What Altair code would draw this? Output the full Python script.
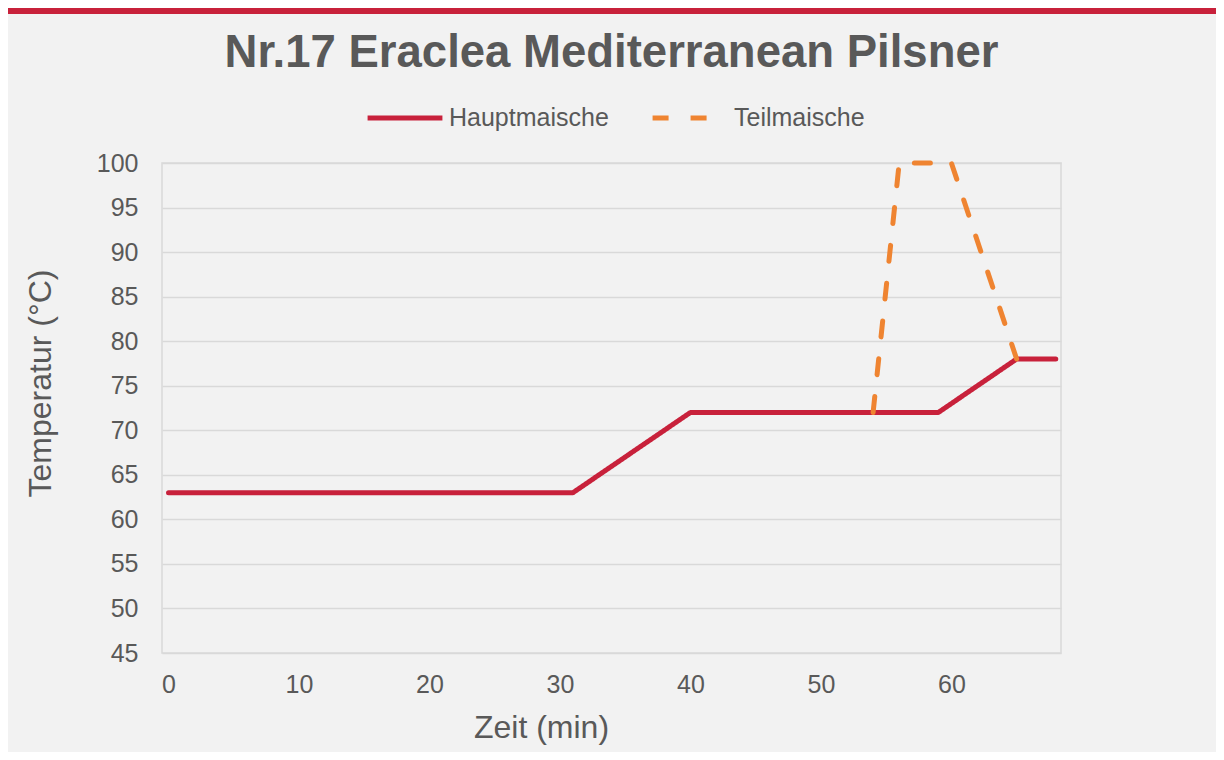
import altair as alt
import pandas as pd

# --- data ---
series = ["Hauptmaische", "Teilmaische"]
haupt_zeit = [0, 31, 40, 59, 65, 68]
haupt_temp = [63, 63, 72, 72, 78, 78]
teil_zeit = [54, 56, 60, 65]
teil_temp = [72, 100, 100, 78]
x_ticks = [0, 10, 20, 30, 40, 50, 60]
y_ticks = [45, 50, 55, 60, 65, 70, 75, 80, 85, 90, 95, 100]

colors = ["#C8213B", "#EF8431"]
dashes = [[1, 0], [16, 22]]

rows = []
for i, (z, t) in enumerate(zip(haupt_zeit, haupt_temp)):
    rows.append({"zeit": z, "temp": t, "serie": series[0], "idx": i})
for i, (z, t) in enumerate(zip(teil_zeit, teil_temp)):
    rows.append({"zeit": z, "temp": t, "serie": series[1], "idx": i})
df = pd.DataFrame(rows)

FONT = "Liberation Sans"
TXT = "#595959"

legend_kw = dict(
    orient="none", legendX=203, legendY=-85, direction="horizontal",
    title=None, symbolType="stroke", symbolSize=5600, symbolStrokeWidth=5,
    labelFontSize=25, labelColor=TXT, labelFont=FONT, columnPadding=33,
    labelOffset=4,
)

lines = alt.Chart(df).mark_line(strokeWidth=5, strokeCap="round", strokeJoin="round").encode(
    x=alt.X("zeit:Q",
            scale=alt.Scale(domain=[-0.5, 68.4], nice=False, zero=False),
            axis=alt.Axis(values=x_ticks, title="Zeit (min)", labelPadding=19, grid=False,
                          titleX=379, titleY=74, titleBaseline="middle", titleAlign="center")),
    y=alt.Y("temp:Q",
            scale=alt.Scale(domain=[45, 100], nice=False, zero=False),
            axis=alt.Axis(values=y_ticks, title="Temperatur (°C)", labelPadding=24,
                          titleX=-122, titleY=220, titleBaseline="middle", titleAlign="center")),
    color=alt.Color("serie:N", scale=alt.Scale(domain=series, range=colors),
                    legend=alt.Legend(**legend_kw)),
    strokeDash=alt.StrokeDash("serie:N", scale=alt.Scale(domain=series, range=dashes),
                              legend=alt.Legend(**legend_kw)),
    order="idx:Q",
)

topbar = alt.Chart(pd.DataFrame({"a": [0]})).mark_rule(color="#C8213B", strokeWidth=6).encode(
    x=alt.value(-154), x2=alt.value(1054), y=alt.value(-152)
)

chart = alt.layer(lines, topbar).properties(
    width=899, height=490,
    autosize=alt.AutoSizeParams(type="none"),
    padding={"left": 154, "top": 155, "right": 155, "bottom": 99},
    title=alt.TitleParams("Nr.17 Eraclea Mediterranean Pilsner", fontSize=45.5,
                          fontWeight="bold", color=TXT, font=FONT,
                          anchor="middle", baseline="alphabetic", offset=-104),
).configure(
    background="#F2F2F2",
    font=FONT,
).configure_view(
    stroke="#D9D9D9", strokeWidth=1.5,
).configure_axis(
    gridColor="#D9D9D9", gridWidth=1.5,
    domain=False, ticks=False,
    labelFontSize=25, labelColor=TXT, labelFont=FONT,
    titleFontSize=32, titleFontWeight="normal", titleColor=TXT, titleFont=FONT,
)

chart.save("out.html", embed_options={"renderer": "svg", "actions": False})
